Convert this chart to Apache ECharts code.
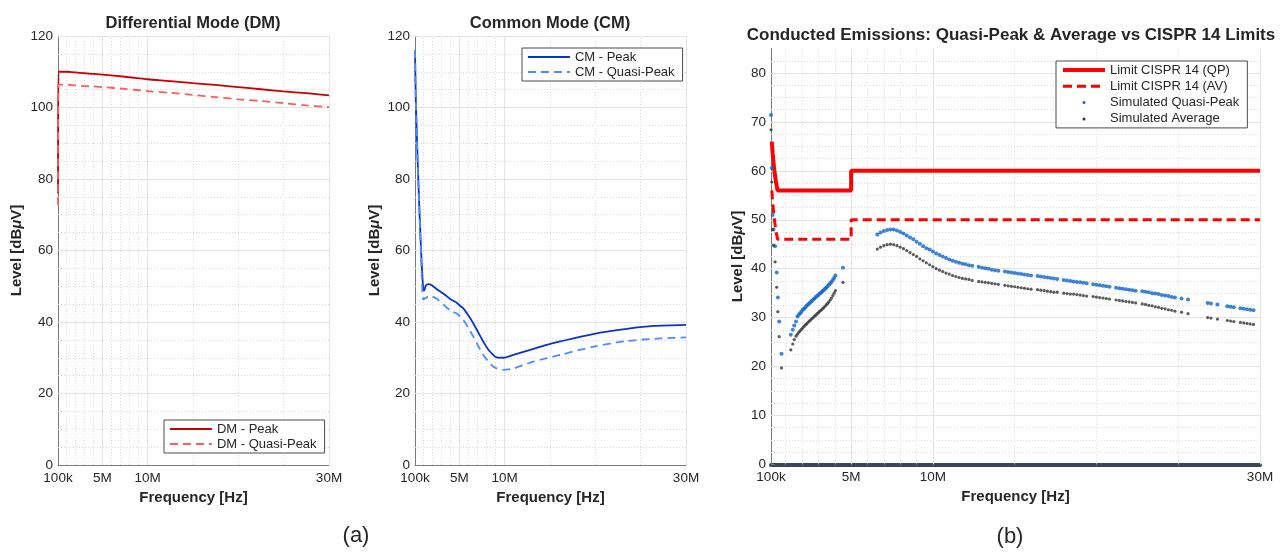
<!DOCTYPE html>
<html>
<head>
<meta charset="utf-8">
<script src="https://cdn.jsdelivr.net/npm/echarts@6/dist/echarts.min.js"></script>
<style>
  html, body { margin: 0; padding: 0; background: #ffffff; }
  #chart { width: 1287px; height: 552px; }
</style>
</head>
<body>
<div id="chart"></div>
<script>
// ---------- frequency axis (MHz, linear) ----------
const freqTickValues = [0.1, 5, 10, 30];
const freqTickLabels = ['100k', '5M', '10M', '30M'];
const freqMajorGrid = [5, 10, 30];
const freqMinorGrid = [1, 2, 3, 4, 6, 7, 8, 9, 15, 20, 25];

// ---------- level axes (dBµV) ----------
const levelMajorGridDM = [20, 40, 60, 80, 100, 120];
const levelMinorGridDM = [5, 10, 15, 25, 30, 35, 45, 50, 55, 65, 70, 75, 85, 90, 95, 105, 110, 115];
const levelTicksCE = [0, 10, 20, 30, 40, 50, 60, 70, 80];
const levelMajorGridCE = [10, 20, 30, 40, 50, 60, 70, 80];
const levelMinorGridCE = [2.5, 5, 7.5, 12.5, 15, 17.5, 22.5, 25, 27.5, 32.5, 35, 37.5, 42.5, 45, 47.5,
  52.5, 55, 57.5, 62.5, 65, 67.5, 72.5, 75, 77.5, 82.5];

// ---------- differential mode ----------
const dmFreq   = [0.1, 0.15, 1, 2, 3, 4, 5, 7.5, 10, 12.5, 15, 17.5, 20, 22.5, 25, 27.5, 30];
const dmPeak   = [76, 110.0, 110.0, 109.8, 109.6, 109.4, 109.2, 108.6, 107.9, 107.4, 106.8, 106.3, 105.7, 105.1, 104.5, 104.0, 103.4];
const dmQPFreq = [0.1, 0.15, 1, 2, 3, 4, 5, 7.5, 10, 12.5, 15, 17.5, 20, 22.5, 25, 27.5, 30];
const dmQP     = [72.7, 106.4, 106.4, 106.2, 106.0, 105.9, 105.7, 105.2, 104.6, 104.1, 103.5, 102.9, 102.3, 101.8, 101.2, 100.6, 100.1];

// ---------- common mode ----------
const cmPeakFreq = [0.1, 0.2, 0.45, 0.75, 1.0, 1.1, 1.3, 1.6, 1.95, 2.6, 3.4, 4.1, 4.7, 5.0, 5.43, 6.0, 6.54, 7.1, 7.64, 8.1, 8.57, 9.12, 9.85, 10.96, 12.44, 14.65, 17.58, 20.53, 23.48, 26.42, 30];
const cmPeak     = [116, 101, 81, 61, 49.5, 48.8, 50.2, 50.6, 50.3, 49.0, 47.6, 46.2, 45.4, 44.7, 43.8, 41.8, 39.6, 37.0, 34.5, 32.6, 31.2, 30.1, 30.0, 30.8, 31.9, 33.6, 35.4, 37.0, 38.1, 38.9, 39.2];
const cmQPFreq   = [0.1, 0.2, 0.45, 0.75, 1.0, 1.2, 1.76, 2.5, 3.4, 4.1, 4.71, 5.43, 6.54, 7.64, 8.75, 9.85, 10.96, 13.17, 16.12, 19.8, 23.48, 27.2, 30];
const cmQP       = [116, 101, 80, 60, 46.3, 46.6, 47.3, 46.5, 44.5, 43.0, 42.4, 40.6, 35.9, 30.8, 27.5, 26.6, 27.0, 28.9, 30.8, 33.1, 34.7, 35.4, 35.7];

// ---------- CISPR 14 limits ----------
const limitFreq = [0.15, 0.2, 0.3, 0.4, 0.5, 5, 5, 30];
const limitQP   = [66, 63.6, 60.2, 57.8, 56, 56, 60, 60];
const limitAV   = [56, 53.6, 50.2, 47.8, 46, 46, 50, 50];

// ---------- simulated emissions ----------
const simLowFreq = [0.10, 0.15, 0.20, 0.25, 0.35, 0.45, 0.52, 0.60, 0.74, 1.31, 1.43, 1.52, 1.63,
  1.72, 1.80, 1.88, 1.96, 2.04, 2.12, 2.20, 2.28, 2.36, 2.44,
  2.52, 2.60, 2.68, 2.76, 2.84, 2.92, 3.00, 3.08, 3.16, 3.24,
  3.32, 3.40, 3.48, 3.56, 3.64, 3.72, 3.80, 3.88, 3.96, 4.04, 4.50];
const simLowQP = [71.4, 60.6, 51.0, 48.0, 44.6, 39.2, 34.1, 29.2, 22.6, 26.5, 27.5, 28.4, 29.2,
  30.2, 30.6, 30.9, 31.2, 31.6, 31.8, 32.1, 32.4, 32.7, 32.9,
  33.2, 33.4, 33.7, 33.9, 34.2, 34.4, 34.6, 34.9, 35.1, 35.4,
  35.6, 35.9, 36.1, 36.4, 36.7, 37.0, 37.3, 37.7, 38.1, 38.6, 40.2];
const simLowAV = [68.4, 57.7, 48.0, 44.8, 41.4, 36.2, 31.2, 26.1, 19.7, 23.4, 24.6, 25.5, 26.2,
  26.6, 27.0, 27.3, 27.6, 27.9, 28.2, 28.5, 28.7, 29.0, 29.3,
  29.5, 29.8, 30.0, 30.3, 30.5, 30.8, 31.0, 31.3, 31.5, 31.8,
  32.0, 32.3, 32.6, 32.9, 33.2, 33.6, 34.0, 34.5, 35.0, 35.5, 37.2];

const simHighFreq = [
  6.6, 6.8, 7.0, 7.2, 7.4, 7.6, 7.8, 8.0, 8.2, 8.4, 8.6, 8.8, 9.0, 9.2, 9.4, 9.6, 9.8, 10.0, 10.2, 10.4,
  10.6, 10.8, 11.0, 11.2, 11.4, 11.6, 11.8, 12.0, 12.2, 12.4,
  12.8, 13.0, 13.2, 13.4, 13.6, 13.8, 14.0,
  14.4, 14.6, 14.8, 15.0, 15.2, 15.4, 15.6, 15.8, 16.0,
  16.4, 16.6, 16.8, 17.0, 17.2, 17.4, 17.6,
  18.0, 18.2, 18.4, 18.6, 18.8, 19.0, 19.2, 19.4,
  19.8, 20.0, 20.2, 20.4, 20.6, 20.8,
  21.2, 21.4, 21.6, 21.8, 22.0, 22.2, 22.4,
  22.8, 23.0, 23.2, 23.4, 23.6, 23.8, 24.0, 24.2, 24.4, 24.6, 24.8,
  25.2, 25.6,
  26.8, 27.0, 27.4,
  28.0, 28.2, 28.4, 28.8, 29.0, 29.2, 29.4, 29.6];
const simHighQP = [
  47.0, 47.4, 47.7, 47.9, 48.0, 48.0, 47.8, 47.5, 47.2, 46.8, 46.4, 46.0, 45.5, 45.1, 44.6, 44.2, 43.9, 43.5, 43.1, 42.8,
  42.5, 42.2, 41.9, 41.6, 41.4, 41.2, 41.0, 40.9, 40.7, 40.6,
  40.4, 40.2, 40.1, 40.0, 39.8, 39.7, 39.6,
  39.4, 39.3, 39.2, 39.1, 39.0, 38.9, 38.8, 38.7, 38.6,
  38.5, 38.4, 38.3, 38.2, 38.1, 38.0, 37.9,
  37.7, 37.6, 37.5, 37.4, 37.3, 37.2, 37.1, 37.0,
  36.8, 36.7, 36.6, 36.5, 36.4, 36.3,
  36.1, 36.0, 35.9, 35.8, 35.7, 35.6, 35.5,
  35.4, 35.3, 35.2, 35.0, 34.9, 34.8, 34.6, 34.5, 34.4, 34.2, 34.1,
  33.9, 33.7,
  33.0, 32.9, 32.7,
  32.3, 32.2, 32.1, 31.9, 31.8, 31.7, 31.6, 31.5];
const simHighAV = [
  44.0, 44.4, 44.7, 44.9, 45.0, 44.9, 44.7, 44.4, 44.1, 43.7, 43.3, 42.9, 42.5, 42.0, 41.6, 41.2, 40.8, 40.4, 40.0, 39.7,
  39.4, 39.1, 38.9, 38.6, 38.4, 38.2, 38.0, 37.9, 37.8, 37.6,
  37.4, 37.3, 37.2, 37.1, 37.0, 36.9, 36.8,
  36.6, 36.5, 36.4, 36.3, 36.2, 36.1, 36.0, 35.9, 35.8,
  35.7, 35.6, 35.5, 35.4, 35.3, 35.2, 35.2,
  35.0, 34.9, 34.8, 34.8, 34.7, 34.6, 34.5, 34.4,
  34.3, 34.2, 34.1, 34.0, 33.9, 33.8,
  33.6, 33.5, 33.4, 33.3, 33.2, 33.1, 33.0,
  32.8, 32.7, 32.5, 32.4, 32.2, 32.1, 31.9, 31.8, 31.6, 31.5, 31.3,
  31.1, 30.8,
  30.0, 29.9, 29.7,
  29.4, 29.3, 29.2, 29.0, 28.9, 28.8, 28.7, 28.6];

// ---------- styling helpers ----------
const FONT = '"Liberation Sans", Arial, Helvetica, sans-serif';
const TXT = '#262626';
const AXIS_GRAY = '#7a7a7a';

function pairs(xs, ys) { return xs.map((x, i) => [x, ys[i]]); }

function freqLabel(v) {
  let best = 0;
  freqTickValues.forEach((t, i) => { if (Math.abs(t - v) < Math.abs(freqTickValues[best] - v)) best = i; });
  return Math.abs(freqTickValues[best] - v) < 1e-6 ? freqTickLabels[best] : '';
}

// Grid lines (major solid, minor dotted) drawn as mark lines beneath the data
function gridLines(idx, xMajor, xMinor, yMajor, yMinor) {
  const major = { color: '#e4e4e4', width: 1, type: 'solid' };
  const minor = { color: '#dadada', width: 1, type: [1, 2] };
  const data = [];
  xMinor.forEach(v => data.push({ xAxis: v, lineStyle: minor }));
  yMinor.forEach(v => data.push({ yAxis: v, lineStyle: minor }));
  xMajor.forEach(v => data.push({ xAxis: v, lineStyle: major }));
  yMajor.forEach(v => data.push({ yAxis: v, lineStyle: major }));
  return {
    type: 'line', xAxisIndex: idx, yAxisIndex: idx, data: [], silent: true, z: 1,
    markLine: { z: 1, silent: true, symbol: ['none', 'none'], label: { show: false },
      emphasis: { disabled: true }, animation: false, data }
  };
}

function freqAxis(idx, thickBase) {
  return {
    type: 'value', gridIndex: idx, min: 0.1, max: 30,
    name: 'Frequency [Hz]', nameLocation: 'middle', nameGap: 25,
    nameTextStyle: { fontFamily: FONT, fontSize: 15, fontWeight: 'bold', color: TXT },
    axisLine: { show: true, onZero: false,
      lineStyle: thickBase ? { color: '#37475a', width: 4 } : { color: AXIS_GRAY, width: 1 } },
    axisTick: { show: true, inside: true, length: 4, customValues: freqTickValues,
      lineStyle: { color: AXIS_GRAY } },
    axisLabel: { customValues: freqTickValues, formatter: freqLabel, margin: 6,
      fontFamily: FONT, fontSize: 13.5, color: TXT },
    splitLine: { show: false }, minorSplitLine: { show: false }
  };
}

function levelAxis(idx, max, interval, nameGap, customTicks) {
  const ax = {
    type: 'value', gridIndex: idx, min: 0, max: max,
    name: '{n|Level [dB}{m|μ}{n|V]}', nameLocation: 'middle', nameGap: nameGap, nameRotate: 90,
    nameTextStyle: { rich: {
      n: { fontFamily: FONT, fontSize: 15, fontWeight: 'bold', color: TXT },
      m: { fontFamily: FONT, fontSize: 15, fontWeight: 'bold', fontStyle: 'italic', color: TXT } } },
    axisLine: { show: true, onZero: false, lineStyle: { color: AXIS_GRAY, width: 1 } },
    axisTick: { show: true, inside: true, length: 4, lineStyle: { color: AXIS_GRAY } },
    axisLabel: { margin: 5, fontFamily: FONT, fontSize: 13.5, color: TXT },
    splitLine: { show: false }
  };
  if (customTicks) {
    ax.axisTick.customValues = customTicks;
    ax.axisLabel.customValues = customTicks;
  } else {
    ax.interval = interval;
  }
  return ax;
}

function legendBox(left, top, names, gap) {
  return {
    orient: 'vertical', left: left, top: top, data: names, z: 10,
    itemWidth: 42, itemHeight: 3, itemGap: gap,
    padding: [2, 8, 2, 5], borderColor: '#4a4a4a', borderWidth: 1, backgroundColor: '#ffffff',
    selectedMode: false, itemStyle: { opacity: 0 },
    lineStyle: { width: 'inherit' },
    textStyle: { fontFamily: FONT, fontSize: 13, color: TXT, lineHeight: 14 }
  };
}

const chart = echarts.init(document.getElementById('chart'), null, { renderer: 'canvas' });

chart.setOption({
  animation: false,
  backgroundColor: '#ffffff',
  graphic: [
    { type: 'text', x: 193, y: 23, style: { text: 'Differential Mode (DM)', align: 'center', verticalAlign: 'middle',
      font: 'bold 16.5px ' + FONT, fill: TXT } },
    { type: 'text', x: 550, y: 23, style: { text: 'Common Mode (CM)', align: 'center', verticalAlign: 'middle',
      font: 'bold 16.5px ' + FONT, fill: TXT } },
    { type: 'text', x: 1011, y: 35, style: { text: 'Conducted Emissions: Quasi-Peak & Average vs CISPR 14 Limits',
      align: 'center', verticalAlign: 'middle', font: 'bold 17px ' + FONT, fill: TXT } },
    { type: 'text', x: 356, y: 536, style: { text: '(a)', align: 'center', verticalAlign: 'middle',
      font: '22px ' + FONT, fill: TXT } },
    { type: 'text', x: 1010, y: 537, style: { text: '(b)', align: 'center', verticalAlign: 'middle',
      font: '22px ' + FONT, fill: TXT } }
  ],
  grid: [
    { left: 58, top: 36, width: 271, height: 429 },
    { left: 415, top: 36, width: 271, height: 429 },
    { left: 771, top: 48.6, width: 489, height: 415.7 }
  ],
  xAxis: [freqAxis(0, false), freqAxis(1, false), freqAxis(2, true)],
  yAxis: [levelAxis(0, 120, 20, 34), levelAxis(1, 120, 20, 33), levelAxis(2, 85, 10, 26, levelTicksCE)],
  legend: [
    legendBox(164, 420, [{ name: 'DM - Peak' }, { name: 'DM - Quasi-Peak' }], 1),
    legendBox(522, 48, [{ name: 'CM - Peak' }, { name: 'CM - Quasi-Peak' }], 1),
    legendBox(1056, 61, [
      { name: 'Limit CISPR 14 (QP)' }, { name: 'Limit CISPR 14 (AV)' },
      { name: 'Simulated Quasi-Peak', itemStyle: { opacity: 1 } },
      { name: 'Simulated Average', itemStyle: { opacity: 1 } }], 2.3)
  ],
  series: [
    gridLines(0, freqMajorGrid, freqMinorGrid, levelMajorGridDM, levelMinorGridDM),
    gridLines(1, freqMajorGrid, freqMinorGrid, levelMajorGridDM, levelMinorGridDM),
    gridLines(2, freqMajorGrid, freqMinorGrid, levelMajorGridCE, levelMinorGridCE),
    {
      name: 'DM - Peak', type: 'line', xAxisIndex: 0, yAxisIndex: 0, z: 3,
      data: pairs(dmFreq, dmPeak), symbol: 'none', showSymbol: false, smooth: 0.3,
      lineStyle: { color: '#c80000', width: 1.8 }, itemStyle: { color: '#c80000' }
    },
    {
      name: 'DM - Quasi-Peak', type: 'line', xAxisIndex: 0, yAxisIndex: 0, z: 3,
      data: pairs(dmQPFreq, dmQP), symbol: 'none', showSymbol: false, smooth: 0.3,
      lineStyle: { color: '#ff5c5c', width: 1.8, type: [8, 5] }, itemStyle: { color: '#ff5c5c' }
    },
    {
      name: 'CM - Peak', type: 'line', xAxisIndex: 1, yAxisIndex: 1, z: 3,
      data: pairs(cmPeakFreq, cmPeak), symbol: 'none', showSymbol: false, smooth: 0.25,
      lineStyle: { color: '#0a32cc', width: 1.8 }, itemStyle: { color: '#0a32cc' }
    },
    {
      name: 'CM - Quasi-Peak', type: 'line', xAxisIndex: 1, yAxisIndex: 1, z: 3,
      data: pairs(cmQPFreq, cmQP), symbol: 'none', showSymbol: false, smooth: 0.25,
      lineStyle: { color: '#4d8cff', width: 1.8, type: [8, 5] }, itemStyle: { color: '#4d8cff' }
    },
    {
      name: 'Limit CISPR 14 (QP)', type: 'line', xAxisIndex: 2, yAxisIndex: 2, z: 3,
      data: pairs(limitFreq, limitQP), symbol: 'none', showSymbol: false,
      lineStyle: { color: '#ff0000', width: 4 }, itemStyle: { color: '#ff0000' }
    },
    {
      name: 'Limit CISPR 14 (AV)', type: 'line', xAxisIndex: 2, yAxisIndex: 2, z: 3,
      data: pairs(limitFreq, limitAV), symbol: 'none', showSymbol: false,
      lineStyle: { color: '#ff0000', width: 3, type: [9, 5] }, itemStyle: { color: '#ff0000' }
    },
    {
      name: 'Simulated Quasi-Peak', type: 'scatter', xAxisIndex: 2, yAxisIndex: 2, z: 4,
      data: pairs(simLowFreq, simLowQP).concat(pairs(simHighFreq, simHighQP)),
      symbol: 'circle', symbolSize: 4, itemStyle: { color: '#0e66cc' }
    },
    {
      name: 'Simulated Average', type: 'scatter', xAxisIndex: 2, yAxisIndex: 2, z: 4,
      data: pairs(simLowFreq, simLowAV).concat(pairs(simHighFreq, simHighAV)),
      symbol: 'circle', symbolSize: 3.2, itemStyle: { color: '#333333' }
    }
  ]
});
</script>
</body>
</html>
